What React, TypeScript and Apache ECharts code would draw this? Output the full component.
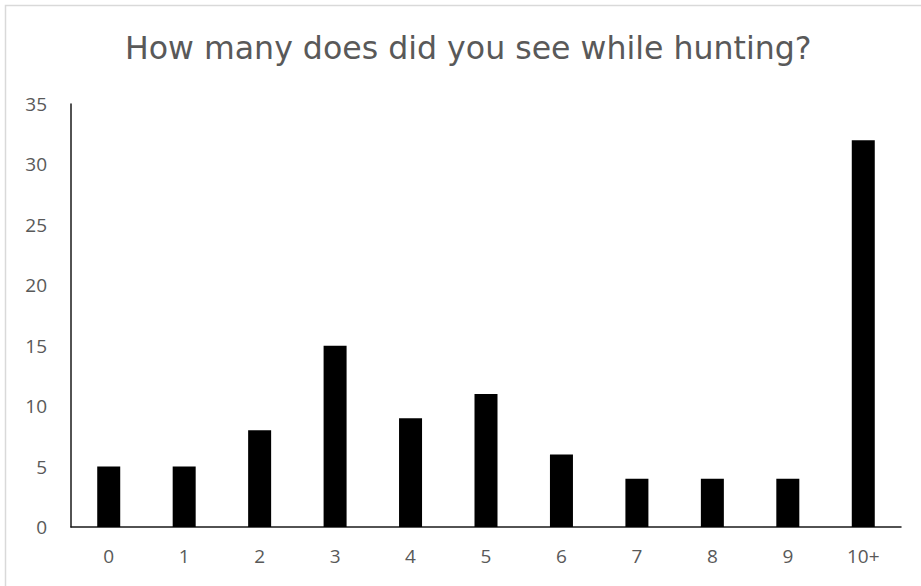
import React, { useEffect, useRef } from "react";
import * as echarts from "echarts";

const categories = ["0", "1", "2", "3", "4", "5", "6", "7", "8", "9", "10+"];
const counts = [5, 5, 8, 15, 9, 11, 6, 4, 4, 4, 32];
const yMin = 0;
const yMax = 35;
const yStep = 5;

export default function App() {
  const ref = useRef<HTMLDivElement>(null);
  useEffect(() => {
    if (!ref.current) return;
    const chart = echarts.init(ref.current, undefined, { renderer: "svg" });
    const font = "'Open Sans', sans-serif";
    chart.setOption({
      animation: false,
      backgroundColor: "#ffffff",
      title: {
        text: "How many does did you see while hunting?",
        left: 120,
        top: 27,
        textStyle: { fontSize: 31.6, fontWeight: "normal", color: "#595959", fontFamily: "'DejaVu Sans', sans-serif" },
      },
      graphic: [
        {
          type: "rect",
          shape: { x: 5.5, y: 5.5, width: 1000, height: 1000 },
          style: { fill: "none", stroke: "#d9d9d9", lineWidth: 1.5 },
          silent: true,
        },
      ],
      grid: { left: 71, right: 20, top: 104, bottom: 59 },
      xAxis: {
        type: "category",
        data: categories,
        axisLine: { show: true, lineStyle: { color: "#1a1a1a", width: 1.5 } },
        axisTick: { show: false },
        axisLabel: { color: "#595959", fontSize: 19, margin: 19, fontFamily: font },
      },
      yAxis: {
        type: "value",
        min: yMin,
        max: yMax,
        interval: yStep,
        axisLine: { show: true, lineStyle: { color: "#1a1a1a", width: 1.5 } },
        axisTick: { show: false },
        splitLine: { show: false },
        axisLabel: { color: "#595959", fontSize: 19, margin: 24, fontFamily: font },
      },
      series: [
        {
          type: "bar",
          data: counts,
          barWidth: 23,
          itemStyle: { color: "#000000" },
        },
      ],
    });
    return () => chart.dispose();
  }, []);
  return (
    <div
      ref={ref}
      style={{ position: "fixed", left: 0, top: 0, width: 921, height: 586 }}
    />
  );
}
